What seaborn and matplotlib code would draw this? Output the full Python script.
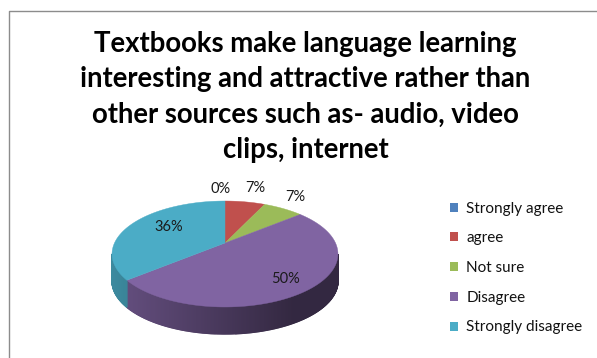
import numpy as np
import matplotlib
matplotlib.use("Agg")
import matplotlib.pyplot as plt
from matplotlib.patches import Polygon, Patch
import seaborn as sns

categories = ["Strongly agree", "agree", "Not sure", "Disagree", "Strongly disagree"]
shares = [0, 7, 7, 50, 36]
palette = ["#4f81bd", "#c0504d", "#9bbb59", "#8064a2", "#4bacc6"]
title_lines = [
    "Textbooks make language learning",
    "interesting and attractive rather than",
    "other sources such as- audio, video",
    "clips, internet",
]

sns.set_theme(style="white")
plt.rcParams["font.family"] = ["Lato", "DejaVu Sans"]

W, H = 597, 358
fig = plt.figure(figsize=(W / 100, H / 100), dpi=100)
ax = fig.add_axes([0, 0, 1, 1])
ax.set_xlim(0, W)
ax.set_ylim(H, 0)
ax.axis("off")

# Perspective view of a tilted disc
CX, CY = 225, 243
RX, RY, TILT = 110.5, 50.7, 0.2076
DEPTH = 27


def project(turn):
    """Map a clockwise angle from 12 o'clock onto the tilted disc."""
    x, y = np.sin(turn), np.cos(turn)
    w = 1 + TILT * y
    return CX + RX * x / w, CY - RY * y / w


def darker(colour, f):
    return tuple(c * f for c in matplotlib.colors.to_rgb(colour))


edges = np.cumsum([0] + shares) / sum(shares) * 2 * np.pi

# Side wall: thin strips shaded from left to right along the front rim
for i, colour in enumerate(palette):
    a0, a1 = edges[i], edges[i + 1]
    if a1 <= a0:
        continue
    steps = max(2, int((a1 - a0) * 120))
    ts = np.linspace(a0, a1, steps + 1)
    for t0, t1 in zip(ts[:-1], ts[1:]):
        if np.cos((t0 + t1) / 2) > -TILT:
            continue
        x0, y0 = project(t0)
        x1, y1 = project(t1)
        u = ((x0 + x1) / 2 - (CX - 113)) / 226
        shade = max(0.40, 0.80 - 0.50 * u)
        face = darker(colour, shade)
        ax.add_patch(Polygon([(x0, y0), (x1, y1), (x1, y1 + DEPTH), (x0, y0 + DEPTH)],
                             closed=True, fc=face, ec=face, lw=1.0, zorder=2))

# Top face of every slice
for i, colour in enumerate(palette):
    a0, a1 = edges[i], edges[i + 1]
    if a1 <= a0:
        continue
    ts = np.linspace(a0, a1, max(3, int((a1 - a0) * 60)))
    px, py = project(ts)
    verts = [(CX, CY)] + list(zip(px, py))
    ax.add_patch(Polygon(verts, closed=True, fc=colour, ec=colour, lw=0.3, zorder=3))

# Percentage labels
label_pos = [(221, 189), (255, 188), (295, 197), (285, 279), (169, 227)]
for v, (lx, ly) in zip(shares, label_pos):
    ax.text(lx, ly, f"{v}%", ha="center", va="center", fontsize=10.5,
            color="#1a1a1a", zorder=5)

# Title
for line, ty in zip(title_lines, [52, 87, 123, 158]):
    ax.text(305.5, ty, line, ha="center", va="baseline", fontsize=19.8,
            fontweight="bold", color="black", zorder=5)

# Legend
handles = [Patch(fc=c, ec="none") for c in palette]
ax.legend(handles, categories, loc="center left", bbox_to_anchor=(450 / W, 1 - 268 / H),
          frameon=False, fontsize=11, handlelength=0.53, handleheight=0.53,
          handletextpad=0.55, labelspacing=1.03, borderpad=0, borderaxespad=0,
          labelcolor="#111111")

# Chart frame
ax.plot([9, 9, W], [H, 10.5, 10.5], color="#8c8c8c", lw=1, zorder=1)

fig.savefig("out.png", dpi=100)
